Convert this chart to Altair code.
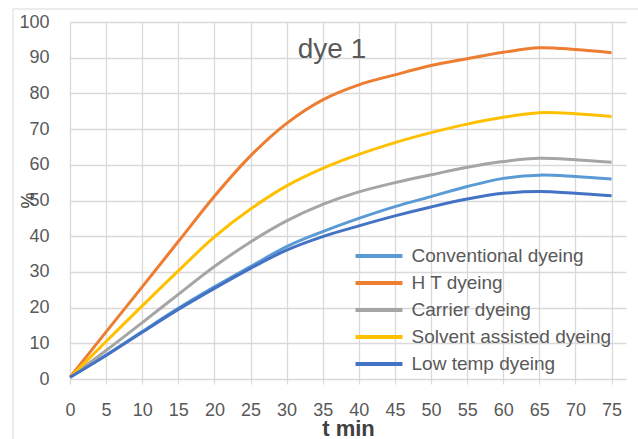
import altair as alt
import pandas as pd

# ---- data ----
minutes = [0, 5, 10, 15, 20, 25, 30, 35, 40, 45, 50, 55, 60, 65, 70, 75]
series_names = ["Conventional dyeing", "H T dyeing", "Carrier dyeing",
                "Solvent assisted dyeing", " Low temp dyeing"]
conventional = [0.5, 6.7, 13.3, 19.8, 25.8, 31.5, 37.1, 41.3, 45.0, 48.3, 51.1, 53.9, 56.2, 57.1, 56.7, 56.0]
ht = [0.5, 13.2, 25.8, 38.5, 51.2, 62.5, 71.6, 78.2, 82.4, 85.2, 87.8, 89.7, 91.5, 92.8, 92.3, 91.4]
carrier = [0.5, 8.0, 15.8, 23.7, 31.5, 38.4, 44.3, 48.9, 52.4, 55.0, 57.2, 59.3, 60.9, 61.8, 61.4, 60.7]
solvent = [0.5, 10.5, 20.5, 30.3, 39.8, 47.6, 54.1, 59.0, 62.9, 66.2, 69.0, 71.4, 73.3, 74.6, 74.3, 73.5]
low_temp = [0.5, 6.6, 13.1, 19.5, 25.4, 31.0, 36.1, 39.9, 42.9, 45.7, 48.2, 50.4, 52.0, 52.5, 52.0, 51.3]
series_values = [conventional, ht, carrier, solvent, low_temp]
colors = ["#5B9BD5", "#ED7D31", "#A5A5A5", "#FFC000", "#4472C4"]
x_ticks = [0, 5, 10, 15, 20, 25, 30, 35, 40, 45, 50, 55, 60, 65, 70, 75]
y_ticks = [0, 10, 20, 30, 40, 50, 60, 70, 80, 90, 100]
chart_title = "dye 1"
x_title = "t min"
y_title = "%"

rows = []
for order, (name, vals) in enumerate(zip(series_names, series_values)):
    for m, v in zip(minutes, vals):
        rows.append({"t": m, "value": v, "series": name, "order": order})
df = pd.DataFrame(rows)

FONT = "Liberation Sans"
GRID = "#d9d9d9"
TEXT = "#595959"

border = alt.Chart(pd.DataFrame({"a": [0]})).mark_rect(
    fill="transparent", stroke=GRID, strokeWidth=1
).encode(x=alt.value(-57), x2=alt.value(700), y=alt.value(-13), y2=alt.value(520))

lines = alt.Chart(df).mark_line(strokeWidth=3, interpolate="catmull-rom").encode(
    x=alt.X("t:Q",
            scale=alt.Scale(domain=[0, 77], nice=False, zero=False),
            axis=alt.Axis(values=x_ticks, title=x_title, grid=True, ticks=True,
                          tickSize=5, tickColor=GRID, tickWidth=1.3,
                          domain=False, labelFontSize=18, labelFont=FONT,
                          labelColor=TEXT, labelBaseline="alphabetic",
                          labelPadding=31, labelFlush=False,
                          titleFont=FONT, titleFontSize=22, titleFontWeight="bold",
                          titleColor="#404040", titleX=278, titleY=56,
                          titleBaseline="alphabetic", titleAlign="center")),
    y=alt.Y("value:Q",
            scale=alt.Scale(domain=[0, 100], nice=False),
            axis=alt.Axis(values=y_ticks, title=y_title, grid=True, ticks=False,
                          domain=False, labelFontSize=18, labelFont=FONT,
                          labelColor=TEXT, labelPadding=21,
                          titleFont=FONT, titleFontSize=18, titleFontWeight="normal",
                          titleColor="#404040", titleX=-42, titleY=178,
                          titleAngle=270, titleBaseline="middle", titleAlign="center")),
    color=alt.Color("series:N",
                    scale=alt.Scale(domain=series_names, range=colors),
                    legend=alt.Legend(orient="none", legendX=299, legendY=224,
                                      title=None, padding=0,
                                      symbolType="M-3,0H3", symbolSize=245,
                                      symbolStrokeWidth=4, symbolOffset=0,
                                      labelFont=FONT, labelFontSize=19,
                                      labelColor=TEXT, labelOffset=22.5,
                                      rowPadding=7, labelLimit=400)),
    order=alt.Order("order:Q"),
)

title_text = alt.Chart(pd.DataFrame({"label": [chart_title]})).mark_text(
    font=FONT, fontSize=28, color=TEXT, align="center", baseline="alphabetic"
).encode(x=alt.value(262), y=alt.value(36), text="label:N")

chart = alt.layer(border, lines, title_text).properties(
    width=556, height=357,
    autosize=alt.AutoSizeParams(type="none"),
    padding={"left": 70, "top": 22, "right": 12, "bottom": 60},
    background="white",
).configure_axis(
    gridColor=GRID, gridWidth=1.3
).configure_view(stroke=None)

chart.save("out.html", embed_options={"renderer": "svg", "actions": False})
